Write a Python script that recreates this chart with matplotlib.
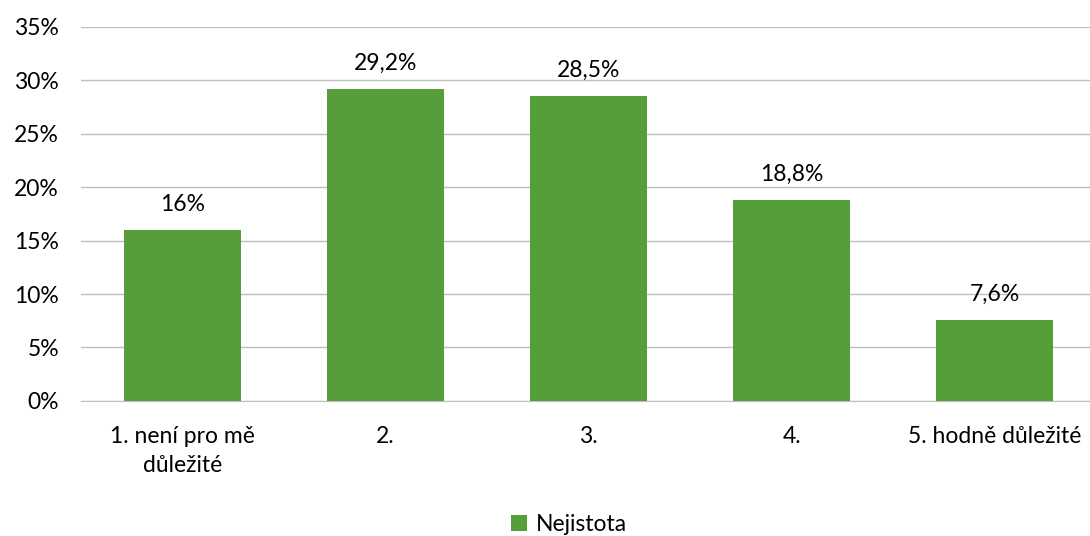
import matplotlib.pyplot as plt
from matplotlib.ticker import FuncFormatter

plt.rcParams["font.family"] = ["Lato", "DejaVu Sans"]

# ---------------------------------------------------------
# Data
# ---------------------------------------------------------
categories = ["1. není pro mě\ndůležité", "2.", "3.", "4.", "5. hodně důležité"]
values = [16.0, 29.2, 28.5, 18.8, 7.6]
value_labels = ["16%", "29,2%", "28,5%", "18,8%", "7,6%"]
series_name = "Nejistota"

BAR_COLOR = "#559E3A"
GRID_COLOR = "#BFBFBF"
TEXT_COLOR = "#000000"
FS = 16.5

fig = plt.figure(figsize=(10.9, 5.36), dpi=100)
ax = fig.add_axes([0.0745, 0.252, 0.931, 0.698])

x = range(len(categories))
bars = ax.bar(x, values, width=0.575, color=BAR_COLOR, label=series_name, zorder=3)

for b, lab in zip(bars, value_labels):
    ax.annotate(lab, (b.get_x() + b.get_width() / 2, b.get_height()),
                xytext=(0, 11), textcoords="offset points",
                ha="center", va="bottom", fontsize=FS, color=TEXT_COLOR)

ax.set_xlim(-0.5, len(categories) - 0.5)
ax.set_ylim(0, 35)
ax.set_yticks(range(0, 36, 5))
ax.yaxis.set_major_formatter(FuncFormatter(lambda v, p: f"{v:.0f}%"))
ax.set_xticks(list(x))
ax.set_xticklabels(categories, fontsize=FS, color=TEXT_COLOR, linespacing=1.45)
ax.tick_params(axis="y", labelsize=FS, length=0, pad=16, colors=TEXT_COLOR)
ax.tick_params(axis="x", length=0, pad=18)

ax.grid(axis="y", color=GRID_COLOR, linewidth=1, zorder=0)
for s in ["top", "right", "left"]:
    ax.spines[s].set_visible(False)
ax.spines["bottom"].set_color(GRID_COLOR)

fig.legend(loc="lower center", bbox_to_anchor=(0.522, -0.036), frameon=False,
           fontsize=FS, handlelength=0.7, handleheight=0.7, handletextpad=0.35)

fig.savefig("out.png", dpi=100)
